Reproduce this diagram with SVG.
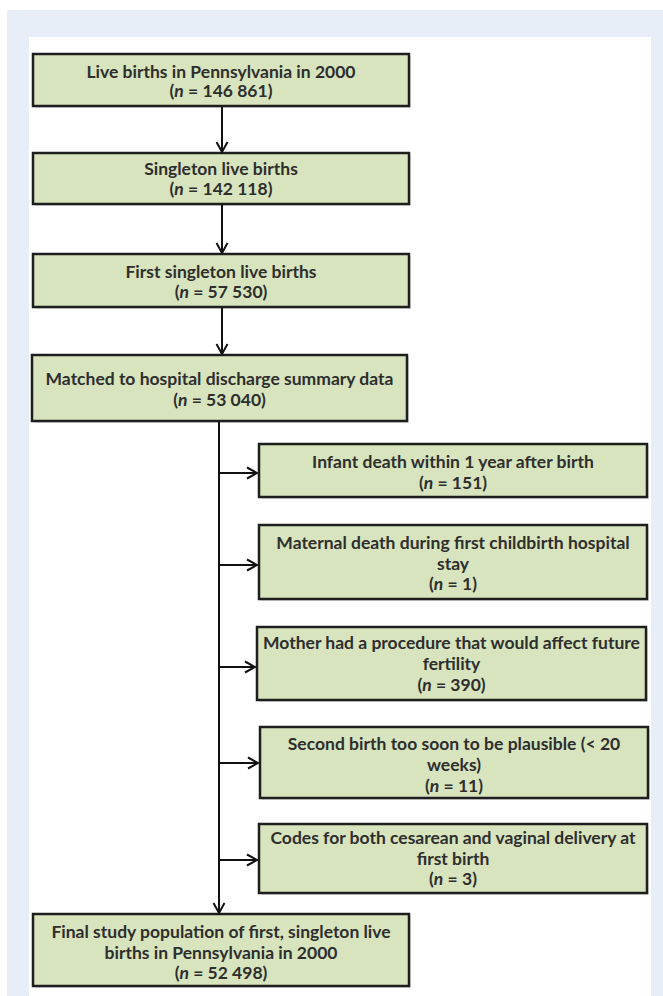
<svg xmlns="http://www.w3.org/2000/svg" width="663" height="996" viewBox="0 0 663 996">
<style>
.box{fill:#d7e4bd;stroke:#1e1e1e;stroke-width:2.5}
.sh{fill:#cfcfcf;opacity:0.6}
.t{font-family:Lato,"Open Sans","Liberation Sans",sans-serif;font-weight:bold;font-size:17.5px;fill:#2e2e2e;text-anchor:middle}
.i{font-style:italic}
.ln{fill:none;stroke:#111;stroke-width:2}
.ah{fill:none;stroke:#111;stroke-width:2;stroke-linejoin:miter}
</style>
<rect x="0" y="0" width="663" height="996" fill="#ffffff"/>
<rect x="7" y="10" width="656" height="986" fill="#e7eef8"/>
<rect x="29" y="37" width="622" height="959" fill="#ffffff"/>

<g id="n1">
<rect class="sh" x="35" y="56" width="376" height="52"/>
<rect class="box" x="33" y="54" width="376" height="52"/>
<text class="t" x="221" y="78">Live births in Pennsylvania in 2000</text>
<text class="t" x="221" y="97">(<tspan class="i">n</tspan> = 146 861)</text>
</g>
<g id="n2">
<rect class="sh" x="35" y="155" width="376" height="51"/>
<rect class="box" x="33" y="153" width="376" height="51"/>
<text class="t" x="221" y="175">Singleton live births</text>
<text class="t" x="221" y="195">(<tspan class="i">n</tspan> = 142 118)</text>
</g>
<g id="n3">
<rect class="sh" x="35" y="256" width="376" height="53"/>
<rect class="box" x="33" y="254" width="376" height="53"/>
<text class="t" x="221" y="278">First singleton live births</text>
<text class="t" x="221" y="298">(<tspan class="i">n</tspan> = 57 530)</text>
</g>
<g id="n4">
<rect class="sh" x="34" y="357" width="375" height="66"/>
<rect class="box" x="32" y="355" width="375" height="66"/>
<text class="t" x="219.5" y="385">Matched to hospital discharge summary data</text>
<text class="t" x="219.5" y="406">(<tspan class="i">n</tspan> = 53 040)</text>
</g>
<g id="e1">
<rect class="sh" x="261" y="446" width="388" height="53"/>
<rect class="box" x="259" y="444" width="388" height="53"/>
<text class="t" x="453" y="468">Infant death within 1 year after birth</text>
<text class="t" x="453" y="489">(<tspan class="i">n</tspan> = 151)</text>
</g>
<g id="e2">
<rect class="sh" x="261" y="527" width="388" height="74"/>
<rect class="box" x="259" y="525" width="388" height="74"/>
<text class="t" x="453" y="549">Maternal death during first childbirth hospital</text>
<text class="t" x="453" y="570">stay</text>
<text class="t" x="453" y="590">(<tspan class="i">n</tspan> = 1)</text>
</g>
<g id="e3">
<rect class="sh" x="259" y="629" width="389" height="73"/>
<rect class="box" x="257" y="627" width="389" height="73"/>
<text class="t" x="451.5" y="649">Mother had a procedure that would affect future</text>
<text class="t" x="451.5" y="670">fertility</text>
<text class="t" x="451.5" y="691">(<tspan class="i">n</tspan> = 390)</text>
</g>
<g id="e4">
<rect class="sh" x="262" y="729" width="388" height="71"/>
<rect class="box" x="260" y="727" width="388" height="71"/>
<text class="t" x="454" y="750">Second birth too soon to be plausible (&lt; 20</text>
<text class="t" x="454" y="771">weeks)</text>
<text class="t" x="454" y="792">(<tspan class="i">n</tspan> = 11)</text>
</g>
<g id="e5">
<rect class="sh" x="261" y="826" width="388" height="69"/>
<rect class="box" x="259" y="824" width="388" height="69"/>
<text class="t" x="453" y="844">Codes for both cesarean and vaginal delivery at</text>
<text class="t" x="453" y="865">first birth</text>
<text class="t" x="453" y="885">(<tspan class="i">n</tspan> = 3)</text>
</g>
<g id="n5">
<rect class="sh" x="35" y="916" width="376" height="72"/>
<rect class="box" x="33" y="914" width="376" height="72"/>
<text class="t" x="221" y="938">Final study population of first, singleton live</text>
<text class="t" x="221" y="959">births in Pennsylvania in 2000</text>
<text class="t" x="221" y="979">(<tspan class="i">n</tspan> = 52 498)</text>
</g>

<g id="connectors">
<line class="ln" x1="222" y1="107" x2="222" y2="152"/>
<polyline class="ah" points="216.5,142 222,152 227.5,142"/>
<line class="ln" x1="222" y1="205" x2="222" y2="253"/>
<polyline class="ah" points="216.5,243 222,253 227.5,243"/>
<line class="ln" x1="222" y1="308" x2="222" y2="354"/>
<polyline class="ah" points="216.5,344 222,354 227.5,344"/>
<line class="ln" x1="219" y1="422" x2="219" y2="913"/>
<polyline class="ah" points="213.5,903 219,913 224.5,903"/>
<line class="ln" x1="219" y1="473" x2="257" y2="473"/>
<polyline class="ah" points="247,467.5 257,473 247,478.5"/>
<line class="ln" x1="219" y1="565" x2="257" y2="565"/>
<polyline class="ah" points="247,559.5 257,565 247,570.5"/>
<line class="ln" x1="219" y1="667" x2="255" y2="667"/>
<polyline class="ah" points="245,661.5 255,667 245,672.5"/>
<line class="ln" x1="219" y1="763" x2="258" y2="763"/>
<polyline class="ah" points="248,757.5 258,763 248,768.5"/>
<line class="ln" x1="219" y1="860" x2="257" y2="860"/>
<polyline class="ah" points="247,854.5 257,860 247,865.5"/>
</g>
</svg>
